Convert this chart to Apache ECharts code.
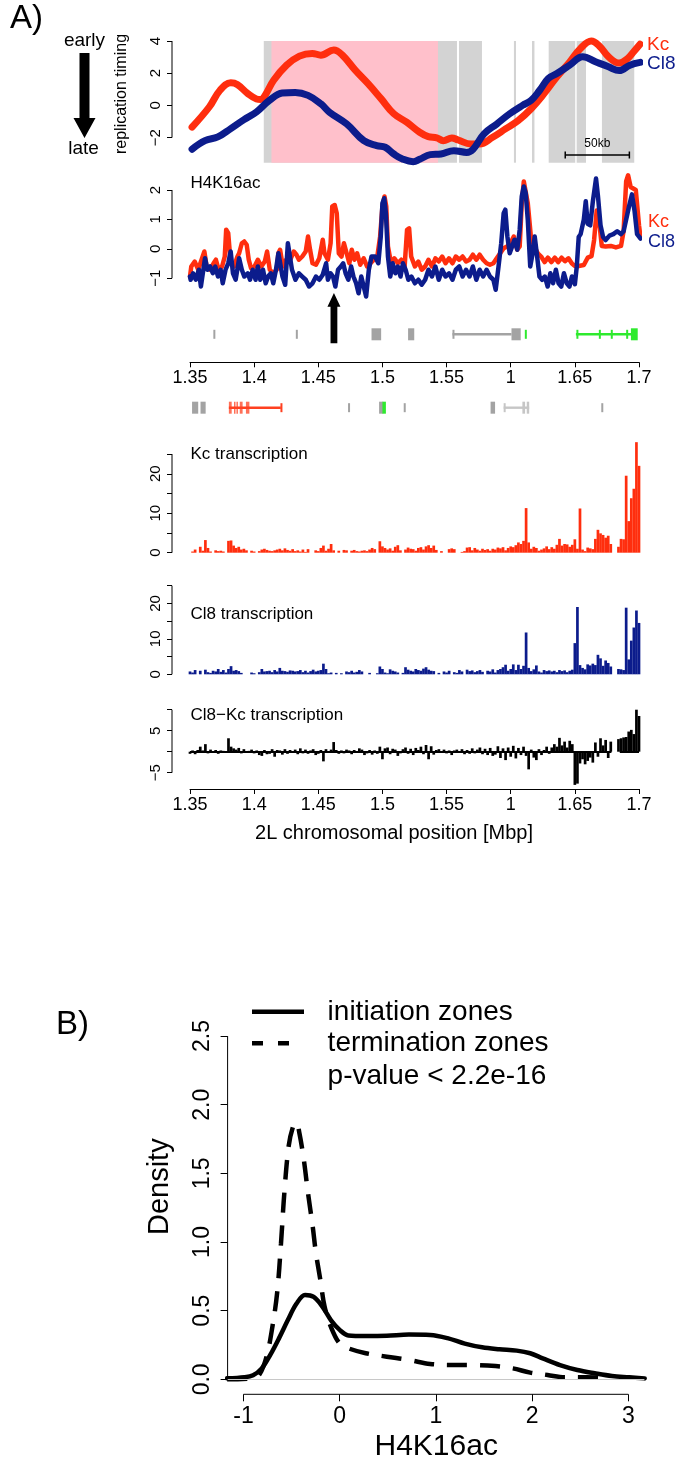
<!DOCTYPE html>
<html><head><meta charset="utf-8">
<script src="https://cdn.jsdelivr.net/npm/echarts@6/dist/echarts.min.js"></script>
<style>html,body{margin:0;padding:0;background:#fff}#c{width:676px;height:1469px}</style>
</head><body><div id="c"></div>
<script>
// ---------------- DATA ----------------
const xTickValues = [1.35,1.4,1.45,1.5,1.55,1.6,1.65,1.7];
const xTickLabels = ['1.35','1.4','1.45','1.5','1.55','1','1.65','1.7'];

// replication timing (Mbp, value)
const repKc = [[1.3516,-1.35],[1.3650,-0.10],[1.3734,0.94],[1.3818,1.40],[1.3868,1.30],[1.3951,0.73],[1.4018,0.40],[1.4050,0.37],[1.4085,0.62],[1.4152,1.56],[1.4253,2.50],[1.4353,3.06],[1.4453,3.23],[1.4520,3.12],[1.4621,3.44],[1.4688,3.12],[1.4788,2.19],[1.4888,1.35],[1.4989,0.42],[1.5089,-0.52],[1.5189,-1.04],[1.5290,-1.67],[1.5357,-1.94],[1.5424,-2.02],[1.5474,-2.19],[1.5541,-2.02],[1.5590,-2.15],[1.5691,-2.40],[1.5758,-2.40],[1.5859,-1.98],[1.5959,-1.46],[1.6059,-0.94],[1.6159,-0.21],[1.6260,0.73],[1.6360,1.77],[1.6460,2.70],[1.6544,3.54],[1.6628,4.00],[1.6695,3.65],[1.6762,3.02],[1.6846,2.63],[1.6910,2.90],[1.6960,3.35],[1.7008,3.80]];
const repCl8 = [[1.3516,-2.72],[1.3617,-2.19],[1.3717,-1.96],[1.3818,-1.44],[1.3918,-0.90],[1.4018,-0.41],[1.4119,0.31],[1.4219,0.77],[1.4320,0.80],[1.4420,0.62],[1.4520,0.10],[1.4587,-0.42],[1.4721,-1.15],[1.4855,-2.19],[1.4955,-2.50],[1.5022,-2.60],[1.5089,-3.02],[1.5156,-3.33],[1.5240,-3.50],[1.5290,-3.35],[1.5373,-3.06],[1.5457,-3.02],[1.5557,-2.81],[1.5657,-2.92],[1.5708,-2.71],[1.5792,-1.77],[1.5892,-1.15],[1.5992,-0.52],[1.6092,0.00],[1.6159,0.31],[1.6226,0.94],[1.6293,1.67],[1.6360,1.98],[1.6460,2.50],[1.6561,3.02],[1.6661,2.71],[1.6762,2.40],[1.6846,2.16],[1.6929,2.50],[1.7008,2.67]];
// timing zones [start, end]
const grayZones = [[1.4075,1.5581],[1.5597,1.5776],[1.6025,1.6041],[1.6166,1.6185],[1.6296,1.6503],[1.6514,1.6587],[1.6711,1.6963]];
const pinkZones = [[1.4135,1.5433]];
const scaleBar = {start:1.6425, length:0.05, label:'50kb'};

// H4K16ac
const h4Kc = [[1.3500,-0.94],[1.3510,-0.60],[1.3537,-0.43],[1.3564,-0.71],[1.3590,-0.37],[1.3612,-0.09],[1.3630,-0.60],[1.3657,-0.71],[1.3684,-0.49],[1.3702,-0.37],[1.3723,-0.71],[1.3750,-0.60],[1.3771,-0.26],[1.3782,0.65],[1.3798,0.53],[1.3817,-0.49],[1.3843,-0.60],[1.3870,-0.26],[1.3883,-0.15],[1.3904,0.19],[1.3923,0.25],[1.3942,0.14],[1.3958,-0.37],[1.3976,-0.66],[1.4003,-0.60],[1.4029,-0.37],[1.4056,-0.60],[1.4083,-0.43],[1.4101,-0.09],[1.4122,-0.71],[1.4149,-0.83],[1.4176,-0.71],[1.4189,-0.15],[1.4202,-0.03],[1.4224,-0.60],[1.4250,-0.37],[1.4282,-0.37],[1.4309,-0.09],[1.4330,-0.20],[1.4349,-0.37],[1.4375,-0.26],[1.4402,-0.09],[1.4420,0.42],[1.4436,-0.03],[1.4455,-0.49],[1.4482,-0.54],[1.4508,-0.32],[1.4535,0.31],[1.4548,-0.15],[1.4575,-0.37],[1.4596,0.19],[1.4609,1.44],[1.4628,1.49],[1.4644,1.21],[1.4660,-0.15],[1.4681,-0.26],[1.4700,0.19],[1.4721,-0.15],[1.4742,-0.49],[1.4761,-0.03],[1.4782,-0.37],[1.4803,-0.15],[1.4827,-0.54],[1.4854,-0.32],[1.4881,-0.60],[1.4907,-0.49],[1.4934,-0.37],[1.4960,-0.26],[1.4982,0.42],[1.5000,1.44],[1.5016,1.78],[1.5030,1.44],[1.5043,0.08],[1.5067,-0.49],[1.5093,-0.32],[1.5120,-0.49],[1.5147,-0.37],[1.5173,-0.60],[1.5192,0.65],[1.5208,0.70],[1.5224,-0.26],[1.5253,-0.60],[1.5280,-0.43],[1.5306,-0.71],[1.5333,-0.60],[1.5359,-0.37],[1.5386,-0.60],[1.5413,-0.32],[1.5439,-0.43],[1.5466,-0.26],[1.5492,-0.49],[1.5519,-0.32],[1.5546,-0.49],[1.5572,-0.26],[1.5599,-0.37],[1.5625,-0.26],[1.5652,-0.43],[1.5679,-0.37],[1.5705,-0.20],[1.5732,-0.37],[1.5758,-0.20],[1.5785,-0.37],[1.5812,-0.49],[1.5838,-0.54],[1.5865,-0.49],[1.5891,-0.32],[1.5918,-0.15],[1.5945,0.02],[1.5971,0.08],[1.5998,0.19],[1.6024,0.42],[1.6051,-0.03],[1.6070,0.08],[1.6086,1.55],[1.6102,2.29],[1.6117,2.23],[1.6133,1.55],[1.6157,0.42],[1.6184,0.08],[1.6211,-0.15],[1.6237,-0.26],[1.6264,-0.45],[1.6290,-0.30],[1.6317,-0.45],[1.6344,-0.30],[1.6370,-0.45],[1.6397,-0.30],[1.6423,-0.42],[1.6450,-0.32],[1.6477,-0.50],[1.6500,-0.58],[1.6530,-0.58],[1.6570,-0.55],[1.6600,-0.30],[1.6630,-0.25],[1.6650,0.30],[1.6670,1.30],[1.6690,0.90],[1.6710,0.10],[1.6740,0.08],[1.6780,0.10],[1.6820,0.05],[1.6860,0.10],[1.6880,0.60],[1.6900,2.30],[1.6915,2.50],[1.6935,2.10],[1.6950,2.15],[1.6975,2.00],[1.7000,0.80],[1.7012,0.40]];
const h4Cl8 = [[1.3500,-0.94],[1.3505,-1.05],[1.3524,-0.83],[1.3545,-1.05],[1.3569,-0.71],[1.3585,-1.28],[1.3604,-0.71],[1.3617,-0.32],[1.3636,-0.71],[1.3657,-0.60],[1.3678,-0.83],[1.3697,-0.60],[1.3718,-0.94],[1.3739,-0.71],[1.3755,-1.17],[1.3777,-0.71],[1.3798,-0.49],[1.3817,-0.09],[1.3835,-0.83],[1.3856,-1.05],[1.3883,-0.32],[1.3904,-0.71],[1.3923,-0.94],[1.3950,-0.83],[1.3968,-1.05],[1.3989,-0.71],[1.4011,-1.05],[1.4029,-0.60],[1.4048,-1.05],[1.4069,-0.71],[1.4090,-1.17],[1.4109,-0.94],[1.4130,-0.83],[1.4149,-1.17],[1.4170,-0.71],[1.4189,-0.15],[1.4202,-0.15],[1.4221,-0.94],[1.4242,-1.22],[1.4263,0.19],[1.4277,0.14],[1.4295,-0.71],[1.4322,-1.05],[1.4349,-0.83],[1.4375,-0.94],[1.4402,-1.05],[1.4428,-1.28],[1.4455,-1.17],[1.4482,-0.94],[1.4508,-1.05],[1.4535,-0.88],[1.4561,-0.49],[1.4575,-1.05],[1.4596,-0.83],[1.4615,-0.94],[1.4633,-1.28],[1.4654,-0.71],[1.4676,-0.60],[1.4694,-0.49],[1.4713,-0.83],[1.4734,-1.05],[1.4756,-0.60],[1.4774,-0.94],[1.4795,-1.17],[1.4814,-1.51],[1.4835,-0.94],[1.4854,-1.28],[1.4873,-1.62],[1.4894,-0.71],[1.4915,-0.26],[1.4942,-0.26],[1.4968,-0.49],[1.4987,0.42],[1.5000,1.55],[1.5014,1.72],[1.5027,1.21],[1.5043,-0.26],[1.5061,-0.94],[1.5080,-0.49],[1.5101,-0.83],[1.5120,-0.60],[1.5141,-0.94],[1.5160,-0.49],[1.5181,-0.71],[1.5202,-1.05],[1.5226,-0.94],[1.5253,-1.17],[1.5280,-1.05],[1.5306,-1.22],[1.5333,-1.05],[1.5359,-0.71],[1.5386,-0.94],[1.5413,-0.60],[1.5439,-1.05],[1.5466,-0.71],[1.5492,-0.94],[1.5519,-0.83],[1.5546,-1.05],[1.5572,-0.71],[1.5599,-0.60],[1.5625,-0.94],[1.5652,-0.71],[1.5679,-0.94],[1.5705,-0.60],[1.5732,-1.05],[1.5758,-0.71],[1.5785,-0.94],[1.5812,-0.71],[1.5838,-0.94],[1.5865,-1.05],[1.5883,-1.39],[1.5905,-0.60],[1.5926,0.19],[1.5945,1.21],[1.5958,1.33],[1.5974,0.42],[1.5992,-0.15],[1.6011,0.08],[1.6029,0.31],[1.6051,-0.03],[1.6070,0.65],[1.6086,1.78],[1.6102,2.12],[1.6117,1.89],[1.6133,0.99],[1.6152,-0.60],[1.6171,-0.15],[1.6187,0.42],[1.6203,-0.15],[1.6224,-0.94],[1.6245,-1.05],[1.6266,-0.94],[1.6288,-1.28],[1.6309,-0.83],[1.6330,-1.17],[1.6352,-0.71],[1.6373,-1.17],[1.6394,-1.28],[1.6415,-0.83],[1.6437,-1.17],[1.6458,-1.28],[1.6477,-0.94],[1.6500,-1.20],[1.6515,-0.60],[1.6530,0.40],[1.6545,0.50],[1.6570,1.00],[1.6585,1.62],[1.6600,0.85],[1.6620,0.80],[1.6640,1.60],[1.6665,2.39],[1.6680,1.80],[1.6700,0.80],[1.6720,0.40],[1.6740,0.30],[1.6770,0.45],[1.6800,0.50],[1.6830,0.60],[1.6860,0.50],[1.6880,0.60],[1.6920,1.40],[1.6945,1.85],[1.6965,1.30],[1.6985,0.50],[1.7012,0.35]];
const arrowPos = 1.4622;

// genes: [start, end, strand, part, group]
const genes = [
 [1.5546,1.6006,'+','intron','other'],[1.6508,1.6982,'+','intron','cl8'],
 [1.3803,1.4208,'-','intron','kc'],[1.5945,1.6144,'-','intron','weak'],
 [1.3682,1.3687,'+','mark','other'],[1.4325,1.4329,'+','mark','other'],
 [1.4915,1.4990,'+','exon','other'],[1.5200,1.5248,'+','exon','other'],
 [1.5546,1.5556,'+','mark','other'],[1.6006,1.6078,'+','exon','other'],
 [1.6110,1.6123,'+','mark','cl8'],[1.6512,1.6518,'+','mark','cl8'],
 [1.6687,1.6691,'+','mark','cl8'],[1.6780,1.6784,'+','mark','cl8'],
 [1.6900,1.6904,'+','mark','cl8'],[1.6937,1.6990,'+','exon','cl8'],
 [1.3516,1.3564,'-','exon','other'],[1.3582,1.3622,'-','exon','other'],
 [1.3803,1.3825,'-','exon','kc'],[1.3843,1.3847,'-','exon','kc'],
 [1.3862,1.3866,'-','exon','kc'],[1.3888,1.3910,'-','exon','kc'],
 [1.3936,1.3963,'-','exon','kc'],[1.4205,1.4209,'-','mark','kc'],
 [1.4732,1.4736,'-','mark','other'],[1.4974,1.5006,'-','exon','other'],
 [1.5000,1.5027,'-','exon','cl8'],[1.5166,1.5170,'-','mark','other'],
 [1.5843,1.5878,'-','exon','other'],[1.5945,1.5958,'-','mark','weak'],
 [1.6091,1.6112,'-','exon','weak'],[1.6125,1.6144,'-','exon','weak'],
 [1.6706,1.6710,'-','mark','other']
];

// transcription, 2 kb bins starting at 1.350 Mbp
const transStart = 1.350, transBin = 0.002;
const kcTrans = [0,0.3,0.8,0,1.5,0.5,3.2,1.2,0.3,0,0.6,0.4,0.5,0.3,0,3.0,3.1,1.8,1.2,1.5,0.8,1.0,0.6,0,0.5,0.3,0,0.4,0.8,1.0,0.7,0.5,0.4,0.6,0.8,1.0,0.6,1.1,0.7,0.5,0.9,0.4,0.6,0.3,0.8,0.2,0.9,0,0,0.6,0.4,1.2,1.8,0.5,1.0,2.2,0.6,0,0.5,0,0.7,0.6,0,0.5,0.7,0.4,0.3,0.5,0.6,0.4,0.8,1.2,0.9,0,2.9,1.6,1.2,0.8,1.1,0.5,1.5,1.9,0.6,0,0.8,1.3,1.0,0.9,0.5,1.2,1.4,0.8,1.6,1.9,1.2,1.8,0.7,0,0.4,0,0,0.9,1.1,0.9,0,0,0.2,0.4,1.3,1.4,0.6,1.2,0.8,0.5,1.0,0.7,0.9,0.5,1.0,0.8,1.3,1.1,1.4,0.6,1.2,1.6,1.4,1.9,2.6,2.2,3.0,11.3,2.6,1.0,1.5,1.2,0.5,0.8,1.1,1.6,0.9,1.4,1.0,2.0,3.5,1.8,2.2,2.1,1.5,2.0,3.4,1.0,11.2,0.8,0.4,1.3,1.1,0.9,3.5,5.8,4.9,4.5,3.8,4.3,2.2,0,0,1.5,3.5,3.4,19.5,8.0,13.8,16.2,28.0,22.0];
const cl8Trans = [0.8,0.5,1.2,0,1.0,0,1.3,0.6,0.4,1.0,0.8,1.5,0.7,1.2,0.5,1.5,2.3,1.0,1.2,0.9,0.4,0,0,0,0.5,0.3,0,0.6,1.5,0.8,0.9,1.0,0.6,1.2,0.8,1.8,1.0,0.9,0.7,1.1,1.0,0.8,0.9,1.2,0.6,1.0,0.5,0.9,1.3,0.8,1.0,1.2,3.0,1.5,0.3,0.5,0,0.4,0,0.3,0,0.8,0.6,1.0,0.5,0.7,1.2,0.8,0,0,0.4,0,0,0.3,2.2,1.5,0.5,0.3,1.4,1.0,0.8,0.5,0,0.4,2.0,1.3,1.0,0.8,1.5,1.2,1.0,1.6,2.0,1.3,1.0,0.9,0,0.4,0,0.8,0.5,1.0,0,0.6,0.4,1.2,0.8,0,1.3,0.9,1.1,0.6,0.9,1.2,0.7,0,1.0,0.8,1.4,0.5,1.2,1.5,2.0,2.7,1.0,1.5,2.8,1.2,2.7,1.5,2.4,11.8,1.8,0.9,1.4,2.5,0.8,0.5,1.2,0.9,1.1,0.8,1.0,0.6,1.2,0.9,1.1,0.6,1.0,1.3,8.8,19.0,2.6,1.8,1.4,2.8,2.5,3.0,2.6,5.5,4.5,2.4,3.9,3.2,2.2,0,0,1.5,1.4,1.2,18.8,4.2,9.5,13.2,18.0,14.5];
const diffTrans = [-0.5,0.3,-0.6,0.4,1.2,0.3,1.8,-0.4,0.5,-0.3,0.4,-0.5,0.3,0.2,-0.3,3.2,1.2,0.8,0.5,0.9,-0.4,0.6,-0.3,0.2,0.5,-0.4,0.3,-0.8,-1.0,0.4,-0.6,-0.5,0.6,-1.2,0.4,0.3,-0.7,0.6,-0.5,0.4,-0.3,0.5,-0.6,0.8,-0.4,0.5,-0.5,0.3,0.6,-0.8,-0.5,0.4,-2.3,0.6,-0.3,0.5,2.3,0.4,-0.5,0.3,-0.4,0.5,0.3,-0.6,0.4,-0.3,0.8,0.5,-0.8,-0.4,0.4,-0.7,0.3,-0.5,1.2,-1.8,0.8,1.0,-0.6,0.7,0.5,-1.0,-0.4,0.6,1.0,-0.5,0.7,-0.8,0.9,0.4,1.2,-0.6,1.6,-1.8,1.3,-0.7,0.4,0.6,-0.3,0.5,-0.4,0.3,-0.8,0.3,0.5,-0.3,0.6,-0.6,0.4,-0.5,0.8,-0.4,0.5,1.0,-0.6,0.7,-0.8,0.9,-1.0,-0.7,1.3,-1.5,0.8,-2.0,1.0,-1.2,1.4,-1.6,0.9,-0.8,1.2,-1.0,-4.2,0.5,-1.4,-2.0,0.6,-0.8,0.4,1.2,-0.5,1.0,1.8,1.2,3.3,1.5,2.4,1.0,2.6,1.8,-7.9,-7.6,-2.8,-1.8,-3.0,-2.2,-1.4,-2.6,2.2,-1.2,3.2,1.5,2.8,-1.5,2.4,null,null,3.0,3.2,3.4,3.5,4.8,5.2,4.2,10.0,8.5];
const diffCoverage = [[1.350,1.6785],[1.6850,1.700]];

// density panel B
const densInit = [[-1.17,0.007],[-0.99,0.015],[-0.90,0.03],[-0.81,0.08],[-0.72,0.18],[-0.63,0.30],[-0.54,0.43],[-0.45,0.55],[-0.36,0.615],[-0.27,0.60],[-0.18,0.53],[-0.09,0.43],[0,0.36],[0.09,0.32],[0.27,0.316],[0.49,0.318],[0.72,0.326],[0.94,0.323],[1.12,0.30],[1.30,0.26],[1.48,0.233],[1.66,0.219],[1.84,0.209],[1.98,0.19],[2.11,0.153],[2.29,0.104],[2.47,0.068],[2.65,0.044],[2.83,0.024],[3.01,0.015],[3.17,0.007]];
const densTerm = [[-1.17,0],[-0.90,0.007],[-0.83,0.04],[-0.76,0.165],[-0.70,0.38],[-0.65,0.63],[-0.61,0.99],[-0.575,1.36],[-0.53,1.70],[-0.485,1.84],[-0.45,1.87],[-0.418,1.79],[-0.373,1.60],[-0.33,1.36],[-0.28,1.11],[-0.247,0.92],[-0.20,0.72],[-0.157,0.53],[-0.09,0.38],[0,0.26],[0.09,0.226],[0.27,0.19],[0.49,0.165],[0.72,0.141],[0.94,0.112],[1.17,0.104],[1.39,0.104],[1.62,0.097],[1.80,0.08],[1.98,0.049],[2.16,0.032],[2.34,0.015],[2.56,0.015],[2.79,0.01]];
const densXTicks = [-1,0,1,2,3];
const densYTicks = [0,0.5,1,1.5,2,2.5];

// ---------------- CHART ----------------
const FONT = 'Liberation Sans, Arial, Helvetica, sans-serif';
const RED = '#FF2E0E', NAVY = '#0C1C8C';
const groupColors = {other:'#A3A3A3', kc:'#FF4020', cl8:'#2EEA2E', weak:'#C6C6C6'};
const partIdx = {exon:0, intron:1, mark:2};
const groupKeys = ['other','kc','cl8','weak'];
const trackPlus = 0.662, trackMinus = -1.073;

const chart = echarts.init(document.getElementById('c'));
const minusFmt = v => String(v).replace('-', '\u2212');
const xFmt = v => { const i = xTickValues.findIndex(t => Math.abs(t - v) < 1e-6); return i >= 0 ? xTickLabels[i] : ''; };

const G = [
 {left:190, width:449, top:41, height:121.7},
 {left:190, width:449, top:171.75, height:128.6},
 {left:190, width:449, top:320, height:42.3},
 {left:190, width:449, top:440, height:112.7},
 {left:190, width:449, top:585, height:89.3},
 {left:190, width:449, top:705, height:84},
 {left:227.6, width:416.8, top:1030, height:364.3}
];
const grid = G.map(g => Object.assign({show:false, containLabel:false, outerBoundsMode:'none'}, g));

function xAx(i, show) {
  return {type:'value', gridIndex:i, min:1.35, max:1.7, show:show, position:'bottom',
    splitLine:{show:false},
    axisLine:{show:true, onZero:false, lineStyle:{color:'#000', width:1}},
    axisTick:{show:true, length:5, customValues:xTickValues, lineStyle:{color:'#000', width:1}},
    axisLabel:{show:true, customValues:xTickValues, margin:7, fontSize:18, color:'#000', fontFamily:FONT, formatter:xFmt}};
}
function yAx(i, min, max, ticks, labels) {
  return {type:'value', gridIndex:i, min, max, offset:18, position:'left',
    splitLine:{show:false}, axisLine:{show:false, onZero:false},
    axisTick:{show:true, length:5, customValues:ticks, lineStyle:{color:'#000', width:1}},
    axisLabel:{show:true, customValues:labels, rotate:90, margin:9, fontSize:15, color:'#000', fontFamily:FONT, formatter:minusFmt}};
}
const xAxis = [xAx(0,false), xAx(1,false), xAx(2,true), xAx(3,false), xAx(4,false), xAx(5,true),
  {type:'value', gridIndex:6, min:-1.165, max:3.167, position:'bottom', splitLine:{show:false}, axisLine:{show:false, onZero:false},
   axisTick:{show:true, length:7, customValues:densXTicks, lineStyle:{color:'#000', width:1}},
   axisLabel:{show:true, customValues:densXTicks, margin:11, fontSize:23, color:'#000', fontFamily:FONT}}];
const yAxis = [
  yAx(0, -3.56, 4.0, [-2,0,2,4], [-2,0,2,4]),
  yAx(1, -1.75, 2.62, [-1,0,1,2], [-1,0,1,2]),
  {type:'value', gridIndex:2, min:0, max:1, show:false, axisLine:{onZero:false}},
  yAx(3, 0, 28.55, [0,5,10,15,20,25], [0,10,20]),
  yAx(4, 0, 25.2, [0,5,10,15,20,25], [0,10,20]),
  yAx(5, -8.88, 11.12, [-5,0,5,10], [-5,5]),
  {type:'value', gridIndex:6, min:-0.109, max:2.544, position:'left', splitLine:{show:false}, axisLine:{show:false, onZero:false},
   axisTick:{show:true, length:7, customValues:densYTicks, lineStyle:{color:'#000', width:1}},
   axisLabel:{show:true, customValues:densYTicks, rotate:90, margin:13, fontSize:23, color:'#000', fontFamily:FONT, formatter:v => v.toFixed(1)}}
];

const zoneAreas = grayZones.map(z => [{xAxis:z[0], itemStyle:{color:'#D3D3D3'}}, {xAxis:z[1]}])
  .concat(pinkZones.map(z => [{xAxis:z[0], itemStyle:{color:'#FFC0CB'}}, {xAxis:z[1]}]));

const binData = arr => arr.map((v, i) => [transStart + i * transBin, v]);
const lineS = (name, xi, data, color, width, smooth) => ({type:'line', name, xAxisIndex:xi, yAxisIndex:xi, data, symbol:'none', smooth:smooth,
  clip:false, silent:true, z:3, lineStyle:{color, width, cap:'round', join:'round'}});
const barS = (xi, data, color) => ({type:'bar', xAxisIndex:xi, yAxisIndex:xi, data, barWidth:2.7, silent:true, itemStyle:{color}, z:3});

const geneData = genes.map(g => [g[0], g[1], g[2] === '+' ? 1 : 0, partIdx[g[3]], groupKeys.indexOf(g[4])]);

const series = [
  {type:'line', xAxisIndex:0, yAxisIndex:0, data:[], silent:true, z:1, markArea:{silent:true, data:zoneAreas}},
  lineS('Kc', 0, repKc, RED, 7, 0.4),
  lineS('Cl8', 0, repCl8, NAVY, 7, 0.4),
  lineS('Kc', 1, h4Kc, RED, 4.5, false),
  lineS('Cl8', 1, h4Cl8, NAVY, 4.5, false),
  {type:'custom', xAxisIndex:2, yAxisIndex:2, data:geneData, clip:false, silent:true, encode:{x:[0,1], y:2},
   renderItem:(params, api) => {
     const s = api.value(0), e = api.value(1), strand = api.value(2), part = api.value(3), grp = api.value(4);
     const yv = strand === 1 ? trackPlus : trackMinus;
     const a = api.coord([s, yv]), b = api.coord([e, yv]);
     const h = part === 0 ? 12 : part === 1 ? 2.4 : 9;
     const w = Math.max(b[0] - a[0], part === 2 ? 2 : 1.5);
     return {type:'rect', shape:{x:a[0], y:a[1] - h / 2, width:w, height:h},
       style:{fill:groupColors[groupKeys[grp]], opacity: grp === 1 && part === 0 ? 0.75 : 1}};
   }},
  barS(3, binData(kcTrans), RED),
  barS(4, binData(cl8Trans), NAVY),
  Object.assign(barS(5, binData(diffTrans).filter(d => d[1] !== null), '#000'), {
    markLine:{silent:true, symbol:'none', label:{show:false}, lineStyle:{color:'#000', width:2, type:'solid'},
      data: diffCoverage.map(c => [{coord:[c[0], 0]}, {coord:[c[1], 0]}])}}),
  {type:'line', xAxisIndex:6, yAxisIndex:6, data:densInit, symbol:'none', smooth:0.35, silent:true, z:3,
   lineStyle:{color:'#000', width:4.5, cap:'round', join:'round'},
   markLine:{silent:true, symbol:'none', label:{show:false}, lineStyle:{color:'#C8C8C8', width:1, type:'solid'}, data:[{yAxis:0}]}},
  {type:'line', xAxisIndex:6, yAxisIndex:6, data:densTerm, symbol:'none', smooth:0.35, silent:true, z:3,
   lineStyle:{color:'#000', width:4.5, type:[20,13], cap:'butt'}}
];

chart.setOption({animation:false, backgroundColor:'#fff', grid, xAxis, yAxis, series});

// ---------------- DECORATIONS ----------------
const g = [];
function txt(x, y, s, size, o) {
  o = o || {};
  g.push({type:'text', x, y, rotation:o.rot || 0, silent:true, z:10,
    style:{text:s, fontSize:size, fontFamily:FONT, fill:o.color || '#000',
      align:o.align || 'left', verticalAlign:'middle', textAlign:o.align || 'left', textVerticalAlign:'middle'}});
}
function ln(x1, y1, x2, y2, w, color, dash) {
  g.push({type:'line', silent:true, z:10, shape:{x1, y1, x2, y2}, style:{stroke:color || '#000', lineWidth:w || 1, lineDash:dash || null}});
}
function poly(pts, color) { g.push({type:'polygon', silent:true, z:10, shape:{points:pts}, style:{fill:color || '#000'}}); }
const py = (i, v) => chart.convertToPixel({yAxisIndex:i}, v);
const pxx = (i, v) => chart.convertToPixel({xAxisIndex:i}, v);

// y axis lines
[[0,-2,4],[1,-1,2],[3,0,25],[4,0,25],[5,-5,10]].forEach(([i, lo, hi]) => {
  const x = G[i].left - 18;
  ln(x, py(i, lo), x, py(i, hi), 1);
});
ln(G[6].left, py(6, 0), G[6].left, py(6, 2.5), 1);
const dB = G[6].top + G[6].height;
ln(pxx(6, -1), dB, pxx(6, 3), dB, 1);

// panel A texts
txt(10, 19, 'A)', 33);
txt(84.5, 41, 'early', 19, {align:'center'});
txt(83.5, 149, 'late', 19, {align:'center'});
poly([[79.5,53],[89.5,53],[89.5,118],[95.5,118],[84.5,138],[73.5,118],[79.5,118]]);
txt(122, 94, 'replication timing', 16, {align:'center', rot:Math.PI / 2});
txt(647, 45, 'Kc', 19, {color:RED});
txt(647, 63.5, 'Cl8', 19, {color:NAVY});
// scale bar
const sb0 = pxx(0, scaleBar.start), sb1 = pxx(0, scaleBar.start + scaleBar.length);
ln(sb0, 155, sb1, 155, 1.5);
ln(sb0, 151.5, sb0, 158.5, 1.5);
ln(sb1, 151.5, sb1, 158.5, 1.5);
txt((sb0 + sb1) / 2, 143.5, scaleBar.label, 12, {align:'center'});

txt(190.5, 183, 'H4K16ac', 17);
txt(648, 221.7, 'Kc', 18, {color:RED});
txt(648, 241.7, 'Cl8', 18, {color:NAVY});
const ax = pxx(1, arrowPos);
poly([[ax - 3.4, 343.3],[ax + 3.4, 343.3],[ax + 3.4, 306.7],[ax + 6.5, 306.7],[ax, 293],[ax - 6.5, 306.7],[ax - 3.4, 306.7]]);

txt(190.5, 454.5, 'Kc transcription', 17);
txt(190.5, 614, 'Cl8 transcription', 17);
txt(190.5, 715.5, 'Cl8\u2212Kc transcription', 17);
txt(394, 833, '2L chromosomal position [Mbp]', 20, {align:'center'});

// panel B texts
txt(56, 1025, 'B)', 33);
ln(252, 1011.7, 304, 1011.7, 4.5);
txt(327.6, 1012, 'initiation zones', 28);
ln(252, 1043.3, 289, 1043.3, 4.5, '#000', [11, 15]);
txt(327.6, 1043.5, 'termination zones', 28);
txt(327.6, 1076.7, 'p-value < 2.2e-16', 28);
txt(159.5, 1186.7, 'Density', 29, {align:'center', rot:Math.PI / 2});
txt(436.2, 1446.7, 'H4K16ac', 30, {align:'center'});

chart.setOption({graphic:{elements:g}});
</script></body></html>
